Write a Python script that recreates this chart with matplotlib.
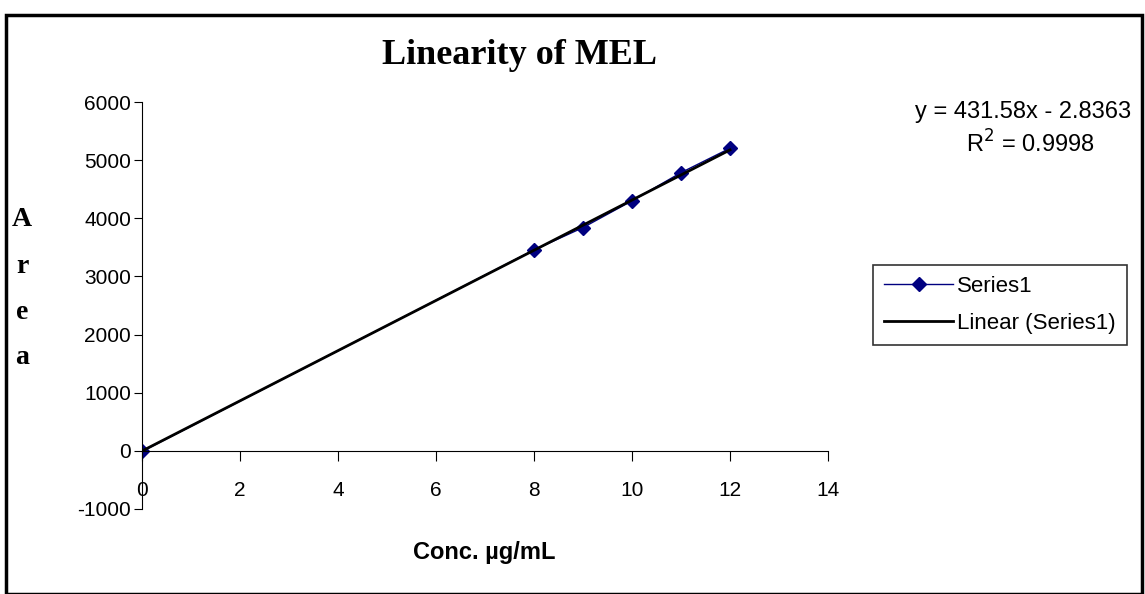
import numpy as np
import matplotlib.pyplot as plt
from matplotlib.patches import Rectangle

conc = [0, 8, 9, 10, 11, 12]
area = [-10, 3455, 3840, 4300, 4785, 5205]
slope, intercept = 431.58, -2.8363
yticks = [-1000, 0, 1000, 2000, 3000, 4000, 5000, 6000]

plt.rcParams["font.family"] = "Liberation Sans"

fig = plt.figure(figsize=(11.45, 5.94), dpi=100)
fig.patches.append(Rectangle((0.005, 0.0), 0.992, 0.975, transform=fig.transFigure,
                             fill=False, edgecolor="black", linewidth=2.5))

ax = fig.add_axes([142 / 1145, 1 - 509 / 594, (828 - 142) / 1145, (509 - 102) / 594])
ax.spines["bottom"].set_position("zero")
ax.spines["left"].set_position("zero")
ax.spines["top"].set_visible(False)
ax.spines["right"].set_visible(False)
ax.patch.set_alpha(0)

xfit = np.array([0, 12])
ax.plot(conc, area, color="#000080", marker="D", markersize=7, lw=1, label="Series1")
ax.plot(xfit, slope * xfit + intercept, color="black", lw=2, label="Linear (Series1)")

ax.set_xlim(0, 14)
ax.set_ylim(-1000, 6000)
ax.set_xticks(range(0, 15, 2))
ax.set_yticks(yticks)
ax.set_yticklabels([str(v) for v in yticks])
ax.tick_params(axis="x", direction="out", length=7, labelsize=15, pad=15)
ax.tick_params(axis="y", direction="out", length=6, labelsize=15, pad=2)

fig.text(519 / 1145, 1 - 55 / 594, "Linearity of MEL", ha="center", va="center",
         family="Liberation Serif", weight="bold", fontsize=26)
fig.text(484 / 1145, 1 - 552 / 594, "Conc. µg/mL", ha="center", va="center",
         weight="bold", fontsize=17)
for i, ch in enumerate("Area"):
    fig.text(22 / 1145, 1 - (220 + i * 46) / 594, ch, ha="center", va="center",
             family="Liberation Serif", weight="bold", fontsize=20)

fig.text(915 / 1145, 1 - 112 / 594, "y = 431.58x - 2.8363", ha="left", va="center",
         fontsize=17)
fig.text(1030 / 1145, 1 - 144 / 594, "R$^2$ = 0.9998", ha="center", va="center",
         fontsize=17)

leg = ax.legend(loc="upper left", bbox_to_anchor=(873 / 1145, 1 - 265 / 594),
                bbox_transform=fig.transFigure, frameon=True, fancybox=False,
                prop={"size": 16}, handlelength=3.1, labelspacing=0.7,
                borderaxespad=0, handletextpad=0.2, borderpad=0.5)
leg.get_frame().set_edgecolor("black")
leg.get_frame().set_linewidth(1.2)

fig.savefig("out.png", dpi=100)
